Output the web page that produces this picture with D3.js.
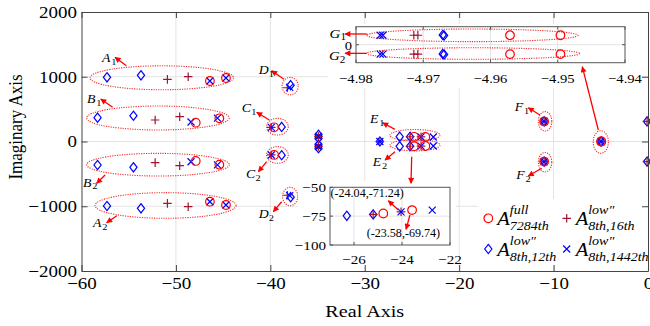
<!DOCTYPE html>
<html><head><meta charset="utf-8">
<script src="https://cdn.jsdelivr.net/npm/d3@7/dist/d3.min.js"></script>
<style>html,body{margin:0;padding:0;background:#fff}svg{display:block}</style>
</head><body>
<svg id="chart" width="650" height="326"></svg>
<script>
// ---------------- data ----------------
const xTicks = [-60, -50, -40, -30, -20, -10, 0];
const yTicks = [-2000, -1000, 0, 1000, 2000];
const xTitle = "Real Axis";
const yTitle = "Imaginary Axis";

// A^full_7284th  (circles)
const fullPoles = [
  [-46.4, 934], [-46.4, -930], [-44.7, 981], [-44.7, -981],
  [-47.9, 290], [-47.9, -300], [-45.4, 358], [-45.4, -358],
  [-39.6, 219], [-39.6, -208],
  [-24.78, 72.7], [-24.78, -72.7], [-23.58, 69.74], [-23.58, -69.74],
  [-11.0, 310], [-11.0, -310], [-4.957, 0], [-4.950, 0]
];
// A^low''_8th,16th  (plus)
const low16Poles = [
  [-50.9, 960], [-50.9, -955], [-48.7, 1001], [-48.7, -1007],
  [-52.2, 332], [-52.2, -327], [-49.6, 383], [-49.6, -374],
  [-39.9, 219], [-39.9, -208], [-38.2, 830], [-38.2, -830],
  [-34.9, 77], [-34.9, -77], [-28.4, 0],
  [-25.2, 73.5], [-25.2, -73.5], [-24.04, 71.24], [-24.04, -71.24],
  [-11.0, 310], [-11.0, -310], [-4.971, 0], [-0.1, 310], [-0.1, -310]
];
// A^low''_8th,12th  (diamonds)
const low12Poles = [
  [-57.3, 991], [-57.3, -996], [-53.7, 1022], [-53.7, -1032],
  [-58.3, 368], [-58.3, -363], [-54.5, 398], [-54.5, -399],
  [-38.8, 225], [-38.8, -212], [-37.85, 870], [-37.85, -860],
  [-34.9, 104], [-34.9, 50], [-34.9, -50], [-34.9, -104], [-28.4, 0],
  [-26.3, 74.7], [-26.3, -74.7], [-25.2, 73.5], [-25.2, -73.5],
  [-11.0, 310], [-11.0, -310], [-4.967, 0], [-0.1, 310], [-0.1, -310]
];
// A^low''_8th,1442th  (crosses)
const low1442Poles = [
  [-46.4, 934], [-46.4, -930], [-44.7, 981], [-44.7, -981],
  [-48.4, 301], [-48.4, -312], [-45.6, 362], [-45.6, -362],
  [-39.9, 219], [-39.9, -208], [-37.95, 835], [-37.95, -835],
  [-34.9, 77], [-34.9, -77], [-28.4, 0],
  [-24.04, 71.24], [-24.04, -71.24], [-22.74, 69.8], [-22.74, -69.8],
  [-11.0, 310], [-11.0, -310], [-4.976, 0]
];

// cluster ellipses (data units): [cx, cy, rx, ry]
const clusterEllipses = [
  [-51.5, 984, 7.6, 185], [-51.1, -988, 7.47, 198],
  [-51.9, 363, 7.55, 185], [-51.9, -358, 7.55, 175],
  [-39.25, 229, 1.15, 129], [-39.25, -208, 1.15, 129],
  [-37.9, 855, 0.85, 135], [-37.9, -850, 0.8, 142],
  [-24.68, 97, 2.65, 88], [-24.68, -57, 2.65, 88],
  [-10.9, 312, 0.71, 150], [-10.9, -320, 0.71, 150],
  [-5.0, -8, 0.8, 175]
];
// cluster labels: letter, index, [x, y] (data units)
const clusterLabels = [
  ["A", "1", [-57.39, 1290]], ["A", "2", [-58.33, -1263]],
  ["B", "1", [-58.96, 653]], ["B", "2", [-59.39, -638]],
  ["C", "1", [-42.55, 513]], ["C", "2", [-42.1, -505]],
  ["D", "1", [-40.69, 1100]], ["D", "2", [-40.69, -1123]],
  ["E", "1", [-29.0, 344]], ["E", "2", [-28.7, -324]],
  ["F", "1", [-13.66, 530]], ["F", "2", [-13.5, -517]]
];
// arrows (data units): [from, to]
const clusterArrows = [
  [[-55.25, 1171], [-56.45, 1300]], [[-56.27, -1146], [-57.33, -1254]],
  [[-56.7, 528], [-57.96, 656]], [[-57.5, -517], [-58.4, -646]],
  [[-40.1, 332], [-41.44, 451]], [[-40.38, -312], [-41.27, -466]],
  [[-38.55, 961], [-39.86, 1093]], [[-38.8, -930], [-39.68, -1084]],
  [[-26.8, 188], [-28.1, 290]], [[-26.8, -158], [-27.85, -286]],
  [[-25.03, -235], [-25.1, -646]],
  [[-11.44, 409], [-12.68, 522]], [[-11.26, -414], [-12.68, -533]],
  [[-5.26, 178], [-6.96, 1155]]
];

// zoom inset E (lower cluster E2)
const eXTicks = [-26, -24, -22];
const eYTicks = [-100, -75, -50];
const eFull = [[-24.78, -72.7], [-23.58, -69.74]];
const eLow16 = [[-25.2, -73.5], [-24.04, -71.24]];
const eLow12 = [[-26.3, -74.7], [-25.2, -73.5]];
const eLow1442 = [[-24.04, -71.24], [-22.74, -69.8]];
const eNoteText = ["(-24.04,-71.24)", "(-23.58,-69.74)"];
const eNoteAt = [[-26.98, -58.4], [-25.47, -93.3]];
const eNoteArrows = [[[-24.15, -69.7], [-24.57, -61.6]], [[-23.67, -74.0], [-23.83, -86.4]]];

// zoom inset G (real-axis cluster G)
const gXTicks = [-4.98, -4.97, -4.96, -4.95, -4.94];
const gYTicks = [0];
const gFull = [[-4.9571, 1.05], [-4.9496, 1.05], [-4.9571, -1.05], [-4.9496, -1.05]];
const gLow16 = [[-4.9714, 1.05], [-4.9708, 1.05], [-4.9714, -1.05], [-4.9708, -1.05]];
const gLow12 = [[-4.9671, 1.08], [-4.9669, 1.02], [-4.9671, -1.02], [-4.9669, -1.08]];
const gLow1442 = [[-4.9764, 1.05], [-4.9760, 1.05], [-4.9764, -1.05], [-4.9760, -1.05]];
const gEllipses = [[-4.9627, 1.04, 0.01573, 0.7], [-4.9626, -0.98, 0.01587, 0.64]];
const gLabels = [["G", "1", [-4.98312, 1.27]], ["G", "2", [-4.98322, -1.23]]];
const gArrows = [[[-4.9784, 1.19], [-4.98164, 1.19]], [[-4.9784, -0.96], [-4.98164, -0.96]]];

// legend
const legendSup = ["full", "low\u2033", "low\u2033", "low\u2033"];
const legendSub = ["7284th", "8th,16th", "8th,12th", "8th,1442th"];

// ---------------- drawing ----------------
const RED = "#ff0000", BLUE = "#0000ff", MAROON = "#a2142f", DOT = "#f03030";
const FONT = '"Liberation Serif","Times New Roman",Times,serif';
const SX = 1.15;
const svg = d3.select("#chart");

const x = d3.scaleLinear().domain([-60, 0]).range([81.5, 648]);
const y = d3.scaleLinear().domain([-2000, 2000]).range([271, 12]);

const defs = svg.append("defs");
defs.append("marker").attr("id", "ah").attr("viewBox", "0 0 10 10")
  .attr("refX", 9).attr("refY", 5).attr("markerWidth", 7).attr("markerHeight", 6)
  .attr("markerUnits", "userSpaceOnUse").attr("orient", "auto")
  .append("path").attr("d", "M0,0L10,5L0,10Z").attr("fill", RED);

function T(g, px, py, str, o = {}) {
  const size = o.size || 16, sx = o.sx || SX;
  return g.append("text")
    .attr("transform", `translate(${px},${py}) scale(${sx},1)` + (o.rotate ? ` rotate(${o.rotate})` : ""))
    .attr("text-anchor", o.anchor || "middle")
    .attr("font-family", FONT).attr("font-size", size)
    .attr("font-style", o.italic ? "italic" : "normal")
    .attr("fill", o.fill || "#000").text(str);
}

function markerPath(shape, px, py) {
  if (shape === "diamond") return `M${px},${py - 4.6}L${px + 3.6},${py}L${px},${py + 4.6}L${px - 3.6},${py}Z`;
  if (shape === "plus") return `M${px - 4.3},${py}H${px + 4.3}M${px},${py - 4.3}V${py + 4.3}`;
  if (shape === "cross") return `M${px - 3.5},${py - 3.5}L${px + 3.5},${py + 3.5}M${px - 3.5},${py + 3.5}L${px + 3.5},${py - 3.5}`;
  const r = 4.3;
  return `M${px + r},${py}A${r},${r} 0 1,1 ${px - r},${py}A${r},${r} 0 1,1 ${px + r},${py}Z`;
}
function drawSeries(g, pts, shape, color, sx, sy) {
  g.append("g").selectAll("path").data(pts).join("path")
    .attr("d", d => markerPath(shape, sx(d[0]), sy(d[1])))
    .attr("fill", "none").attr("stroke", color).attr("stroke-width", 1.2);
}
function drawEllipses(g, list, sx, sy) {
  g.append("g").selectAll("ellipse").data(list).join("ellipse")
    .attr("cx", d => sx(d[0])).attr("cy", d => sy(d[1]))
    .attr("rx", d => Math.abs(sx(d[0] + d[2]) - sx(d[0])))
    .attr("ry", d => Math.abs(sy(d[1] + d[3]) - sy(d[1])))
    .attr("fill", "none").attr("stroke", DOT).attr("stroke-width", 1.1)
    .attr("stroke-dasharray", "1.2,1.2");
}
function drawArrows(g, list, sx, sy) {
  g.append("g").selectAll("line").data(list).join("line")
    .attr("x1", d => sx(d[0][0])).attr("y1", d => sy(d[0][1]))
    .attr("x2", d => sx(d[1][0])).attr("y2", d => sy(d[1][1]))
    .attr("stroke", RED).attr("stroke-width", 1.3).attr("marker-end", "url(#ah)");
}
function drawLabels(g, list, sx, sy, size) {
  list.forEach(([L, s, p]) => {
    const px = sx(p[0]), py = sy(p[1]);
    T(g, px, py + size * 0.33, L, { size: size, italic: true });
    T(g, px + size * 0.42, py + size * 0.55, s, { size: size * 0.75, anchor: "start" });
  });
}

// grid
const grid = svg.append("g").attr("stroke", "#e3e3e3").attr("stroke-width", 1);
grid.selectAll(".gx").data(xTicks.slice(1, -1)).join("line")
  .attr("x1", d => x(d)).attr("x2", d => x(d)).attr("y1", y(2000)).attr("y2", y(-2000));
grid.selectAll(".gy").data(yTicks.slice(1, -1)).join("line")
  .attr("y1", d => y(d)).attr("y2", d => y(d)).attr("x1", x(-60)).attr("x2", x(0));

// main plot content
const main = svg.append("g");
drawEllipses(main, clusterEllipses, x, y);
drawSeries(main, low12Poles, "diamond", BLUE, x, y);
drawSeries(main, low16Poles, "plus", MAROON, x, y);
drawSeries(main, low1442Poles, "cross", BLUE, x, y);
drawSeries(main, fullPoles, "circle", RED, x, y);

// ---------- inset G ----------
const gx = d3.scaleLinear().domain([-4.98, -4.94]).range([356, 625]);
const gy = d3.scaleLinear().domain([-2, 2]).range([62.7, 26.7]);
const ig = svg.append("g");
ig.append("rect").attr("x", 328).attr("y", 24).attr("width", 313).attr("height", 64).attr("fill", "#fff");
ig.selectAll(".v").data(gXTicks.slice(1, -1)).join("line").attr("stroke", "#e3e3e3")
  .attr("x1", d => gx(d)).attr("x2", d => gx(d)).attr("y1", gy(2)).attr("y2", gy(-2));
ig.selectAll(".h").data(gYTicks).join("line").attr("stroke", "#e3e3e3")
  .attr("y1", d => gy(d)).attr("y2", d => gy(d)).attr("x1", gx(-4.98)).attr("x2", gx(-4.94));
drawEllipses(ig, gEllipses, gx, gy);
drawSeries(ig, gLow12, "diamond", BLUE, gx, gy);
drawSeries(ig, gLow16, "plus", MAROON, gx, gy);
drawSeries(ig, gLow1442, "cross", BLUE, gx, gy);
drawSeries(ig, gFull, "circle", RED, gx, gy);
ig.append("rect").attr("x", gx(-4.98)).attr("y", gy(2)).attr("width", gx(-4.94) - gx(-4.98))
  .attr("height", gy(-2) - gy(2)).attr("fill", "none").attr("stroke", "#555");
gXTicks.forEach(t => {
  ig.append("line").attr("x1", gx(t)).attr("x2", gx(t)).attr("y1", gy(-2)).attr("y2", gy(-2) - 3).attr("stroke", "#555");
  ig.append("line").attr("x1", gx(t)).attr("x2", gx(t)).attr("y1", gy(2)).attr("y2", gy(2) + 3).attr("stroke", "#555");
  T(ig, gx(t), gy(-2) + 20.5, d3.format(".2f")(t), { size: 13.5, sx: 1.08 });
});
gYTicks.forEach(t => {
  ig.append("line").attr("x1", gx(-4.98)).attr("x2", gx(-4.98) + 3).attr("y1", gy(t)).attr("y2", gy(t)).attr("stroke", "#555");
  ig.append("line").attr("x1", gx(-4.94)).attr("x2", gx(-4.94) - 3).attr("y1", gy(t)).attr("y2", gy(t)).attr("stroke", "#555");
  T(ig, gx(-4.98) - 4, gy(t) + 4.8, d3.format("d")(t), { size: 13.5, anchor: "end", sx: 1.08 });
});
drawArrows(ig, gArrows, gx, gy);
drawLabels(ig, gLabels, gx, gy, 13);

// ---------- inset E ----------
const ex = d3.scaleLinear().domain([-27, -22]).range([330, 450]);
const ey = d3.scaleLinear().domain([-100, -50]).range([245, 187.3]);
const ie = svg.append("g");
ie.append("rect").attr("x", 298).attr("y", 181).attr("width", 158).attr("height", 86).attr("fill", "#fff");
ie.selectAll(".v").data([-26, -24]).join("line").attr("stroke", "#e3e3e3")
  .attr("x1", d => ex(d)).attr("x2", d => ex(d)).attr("y1", ey(-50)).attr("y2", ey(-100));
ie.selectAll(".h").data([-75]).join("line").attr("stroke", "#e3e3e3")
  .attr("y1", d => ey(d)).attr("y2", d => ey(d)).attr("x1", ex(-27)).attr("x2", ex(-22));
drawSeries(ie, eLow12, "diamond", BLUE, ex, ey);
drawSeries(ie, eLow16, "plus", MAROON, ex, ey);
drawSeries(ie, eLow1442, "cross", BLUE, ex, ey);
drawSeries(ie, eFull, "circle", RED, ex, ey);
ie.append("rect").attr("x", ex(-27)).attr("y", ey(-50)).attr("width", ex(-22) - ex(-27))
  .attr("height", ey(-100) - ey(-50)).attr("fill", "none").attr("stroke", "#555");
eXTicks.forEach(t => {
  ie.append("line").attr("x1", ex(t)).attr("x2", ex(t)).attr("y1", ey(-100)).attr("y2", ey(-100) - 3).attr("stroke", "#555");
  T(ie, ex(t), ey(-100) + 19, d3.format("d")(t), { size: 13.5, sx: 1.12 });
});
eYTicks.forEach(t => {
  ie.append("line").attr("x1", ex(-27)).attr("x2", ex(-27) + 3).attr("y1", ey(t)).attr("y2", ey(t)).attr("stroke", "#555");
  T(ie, ex(-27) - 4, ey(t) + 4.8, d3.format("d")(t), { size: 13.5, anchor: "end", sx: 1.12 });
});
eNoteText.forEach((s, i) => T(ie, ex(eNoteAt[i][0]), ey(eNoteAt[i][1]), s, { size: 11.5, anchor: "start", sx: 1.05 }));
drawArrows(ie, eNoteArrows, ex, ey);

// annotations on main plot
const ann = svg.append("g");
drawArrows(ann, clusterArrows, x, y);
drawLabels(ann, clusterLabels, x, y, 12);

// ---------- legend ----------
const lg = svg.append("g");
lg.append("rect").attr("x", 478).attr("y", 199).attr("width", 168).attr("height", 67).attr("fill", "#fff");
const legShapes = ["circle", "plus", "diamond", "cross"];
const legColors = [RED, MAROON, BLUE, BLUE];
const legPos = [[488.3, 218.3], [566.7, 218.3], [488.3, 249], [566.7, 249]];
legShapes.forEach((s, i) => {
  const [mx, my] = legPos[i];
  lg.append("path").attr("d", markerPath(s, mx, my)).attr("fill", "none").attr("stroke", legColors[i]).attr("stroke-width", 1.2);
  T(lg, mx + 9, my + 6.5, "A", { size: 19, italic: true, anchor: "start", sx: 1.08 });
  T(lg, mx + 21.5, my - 4.5, legendSup[i], { size: 13, italic: true, anchor: "start", sx: 1.08 });
  T(lg, mx + 21.5, my + 12, legendSub[i], { size: 13, italic: true, anchor: "start", sx: 1.08 });
});

// ---------- axes ----------
function styleAxis(g, labels) {
  g.select(".domain").attr("stroke", "#444");
  g.selectAll(".tick line").attr("stroke", "#444");
  g.selectAll(".tick text").attr("font-family", FONT).attr("font-size", 16.5).attr("fill", "#000")
    .attr("transform", `scale(${SX},1)`);
  if (!labels) g.selectAll(".tick text").remove();
}
const fmt = d3.format("d");
svg.append("g").attr("transform", `translate(0,${y(-2000)})`)
  .call(d3.axisBottom(x).tickValues(xTicks).tickFormat(fmt).tickSize(-6).tickSizeOuter(0).tickPadding(6))
  .call(g => styleAxis(g, true));
svg.append("g").attr("transform", `translate(0,${y(2000)})`)
  .call(d3.axisTop(x).tickValues(xTicks).tickSize(-6).tickSizeOuter(0))
  .call(g => styleAxis(g, false));
svg.append("g").attr("transform", `translate(${x(-60)},0)`)
  .call(d3.axisLeft(y).tickValues(yTicks).tickFormat(fmt).tickSize(-6).tickSizeOuter(0).tickPadding(4))
  .call(g => styleAxis(g, true));
svg.append("g").attr("transform", `translate(${x(0)},0)`)
  .call(d3.axisRight(y).tickValues(yTicks).tickSize(-6).tickSizeOuter(0))
  .call(g => styleAxis(g, false));

T(svg, (x(-60) + x(0)) / 2, 316.5, xTitle, { size: 17.5 });
T(svg, 21.5, 127, yTitle, { size: 17, rotate: -90 });
</script>
</body></html>
